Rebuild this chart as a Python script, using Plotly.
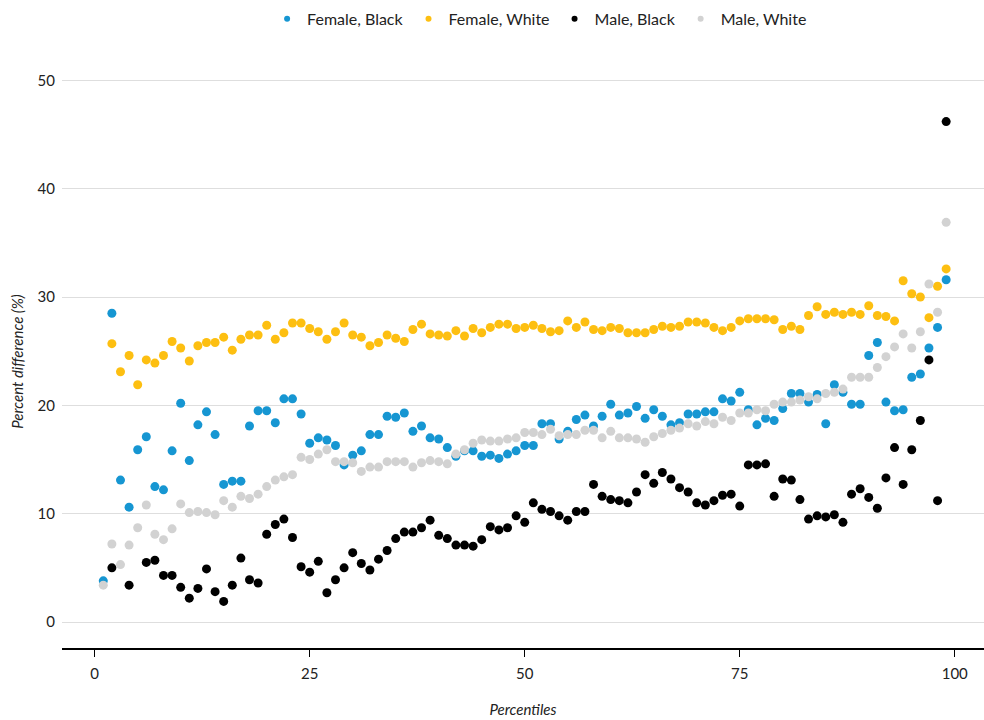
import plotly.graph_objects as go

percentiles = list(range(1, 100))

female_black = [
    3.8, 28.5, 13.1, 10.6, 15.9, 17.1, 12.5, 12.2, 15.8, 20.2,
    14.9, 18.2, 19.4, 17.3, 12.7, 13.0, 13.0, 18.1, 19.5, 19.5,
    18.4, 20.6, 20.6, 19.2, 16.5, 17.0, 16.8, 16.3, 14.5, 15.4,
    15.8, 17.3, 17.3, 19.0, 18.9, 19.3, 17.6, 18.1, 17.0, 16.9,
    16.1, 15.3, 15.8, 15.8, 15.3, 15.4, 15.1, 15.5, 15.8, 16.3,
    16.3, 18.3, 18.3, 16.9, 17.6, 18.7, 19.1, 18.1, 19.0, 20.1,
    19.1, 19.3, 19.9, 18.8, 19.6, 19.0, 18.2, 18.4, 19.2, 19.2,
    19.4, 19.4, 20.6, 20.4, 21.2, 19.6, 18.2, 18.8, 18.6, 19.7,
    21.1, 21.1, 20.3, 21.0, 18.3, 21.9, 21.2, 20.1, 20.1, 24.6,
    25.8, 20.3, 19.5, 19.6, 22.6, 22.9, 25.3, 27.2, 31.6,
]

female_white = [
    None, 25.7, 23.1, 24.6, 21.9, 24.2, 23.9, 24.6, 25.9, 25.3,
    24.1, 25.5, 25.8, 25.8, 26.3, 25.1, 26.1, 26.5, 26.5, 27.4,
    26.1, 26.7, 27.6, 27.6, 27.1, 26.8, 26.1, 26.8, 27.6, 26.5,
    26.3, 25.5, 25.8, 26.5, 26.2, 25.9, 27.0, 27.5, 26.6, 26.5,
    26.4, 26.9, 26.4, 27.1, 26.7, 27.2, 27.5, 27.5, 27.1, 27.2,
    27.4, 27.1, 26.8, 26.9, 27.8, 27.2, 27.7, 27.0, 26.9, 27.2,
    27.1, 26.7, 26.7, 26.7, 27.0, 27.3, 27.2, 27.3, 27.7, 27.7,
    27.6, 27.2, 26.9, 27.2, 27.8, 28.0, 28.0, 28.0, 27.9, 27.0,
    27.3, 27.0, 28.3, 29.1, 28.4, 28.6, 28.4, 28.6, 28.4, 29.2,
    28.3, 28.2, 27.8, 31.5, 30.3, 30.0, 28.1, 31.0, 32.6,
]

male_black = [
    None, 5.0, None, 3.4, None, 5.5, 5.7, 4.3, 4.3, 3.2,
    2.2, 3.1, 4.9, 2.8, 1.9, 3.4, 5.9, 3.9, 3.6, 8.1,
    9.0, 9.5, 7.8, 5.1, 4.6, 5.6, 2.7, 3.9, 5.0, 6.4,
    5.4, 4.8, 5.8, 6.6, 7.7, 8.3, 8.3, 8.7, 9.4, 8.0,
    7.7, 7.1, 7.1, 7.0, 7.6, 8.8, 8.5, 8.7, 9.8, 9.2,
    11.0, 10.4, 10.2, 9.8, 9.4, 10.2, 10.2, 12.7, 11.6, 11.3,
    11.2, 11.0, 12.0, 13.6, 12.8, 13.8, 13.2, 12.4, 12.0, 11.0,
    10.8, 11.2, 11.7, 11.8, 10.7, 14.5, 14.5, 14.6, 11.6, 13.2,
    13.1, 11.3, 9.5, 9.8, 9.7, 9.9, 9.2, 11.8, 12.3, 11.5,
    10.5, 13.3, 16.1, 12.7, 15.9, 18.6, 24.2, 11.2, 46.2,
]

male_white = [
    3.4, 7.2, 5.3, 7.1, 8.7, 10.8, 8.1, 7.6, 8.6, 10.9,
    10.1, 10.2, 10.1, 9.9, 11.2, 10.6, 11.6, 11.4, 11.8, 12.5,
    13.1, 13.4, 13.6, 15.2, 15.0, 15.5, 15.9, 14.8, 14.8, 14.7,
    13.9, 14.3, 14.3, 14.8, 14.8, 14.8, 14.3, 14.7, 14.9, 14.8,
    14.6, 15.5, 15.9, 16.5, 16.8, 16.7, 16.7, 16.9, 17.0, 17.5,
    17.5, 17.3, 17.8, 17.2, 17.3, 17.3, 17.7, 17.7, 17.0, 17.6,
    17.0, 17.0, 16.9, 16.6, 17.1, 17.4, 17.7, 17.9, 18.3, 18.1,
    18.5, 18.3, 18.9, 18.6, 19.3, 19.3, 19.6, 19.5, 20.1, 20.3,
    20.3, 20.5, 20.8, 20.6, 21.1, 21.2, 21.5, 22.6, 22.6, 22.6,
    23.5, 24.5, 25.4, 26.6, 25.3, 26.8, 31.2, 28.6, 36.9,
]

series_names = ["Female, Black", "Female, White", "Male, Black", "Male, White"]
series_values = [female_black, female_white, male_black, male_white]
series_colors = ["#1696d2", "#fdbf11", "#000000", "#d2d2d2"]

x_ticks = [0, 25, 50, 75, 100]
y_ticks = [0, 10, 20, 30, 40, 50]

fig = go.Figure()
for name, vals, col in zip(series_names, series_values, series_colors):
    fig.add_trace(go.Scatter(
        x=percentiles, y=vals, mode="markers", name=name, showlegend=False,
        legendgroup=name, hoverinfo="skip",
        marker=dict(color=col, size=9, line=dict(width=0)),
    ))
# legend-only entries with smaller dots (no data)
for name, col in zip(series_names, series_colors):
    fig.add_trace(go.Scatter(
        x=[None], y=[None], mode="markers", name=name, legendgroup=name,
        marker=dict(color=col, size=6, line=dict(width=0)),
    ))

fig.update_layout(
    width=984, height=720,
    margin=dict(l=62, r=0, t=75, b=72),
    paper_bgcolor="white", plot_bgcolor="white",
    font=dict(family="Lato, sans-serif", size=15, color="#222222"),
    showlegend=True,
    hovermode=False,
    legend=dict(orientation="h", x=0.518, xanchor="center", y=1.098, yanchor="middle",
                font=dict(size=16, color="#222222"), itemwidth=30,
                tracegroupgap=0),
    xaxis=dict(
        range=[-3.8, 103.4], tickvals=x_ticks, showgrid=False, zeroline=False,
        showline=True, linecolor="#000000", linewidth=1.5,
        ticks="outside", ticklen=7, tickwidth=1, tickcolor="#000000",
        ticklabelstandoff=4,
        tickfont=dict(size=15, color="#222222"),
        title=dict(text="Percentiles", font=dict(size=15, style="italic", color="#222222"), standoff=24),
    ),
    yaxis=dict(
        range=[-2.4, 50.5], tickvals=y_ticks, showgrid=True, gridcolor="#dedede", gridwidth=1,
        zeroline=False, showline=False, ticks="",
        ticklabelstandoff=6,
        tickfont=dict(size=15, color="#222222"),
        title=dict(text="Percent difference (%)", font=dict(size=15, style="italic", color="#222222"), standoff=10),
    ),
)

fig.write_html("out.html", config={"displayModeBar": False},
               post_script="document.body.style.margin='0';")
